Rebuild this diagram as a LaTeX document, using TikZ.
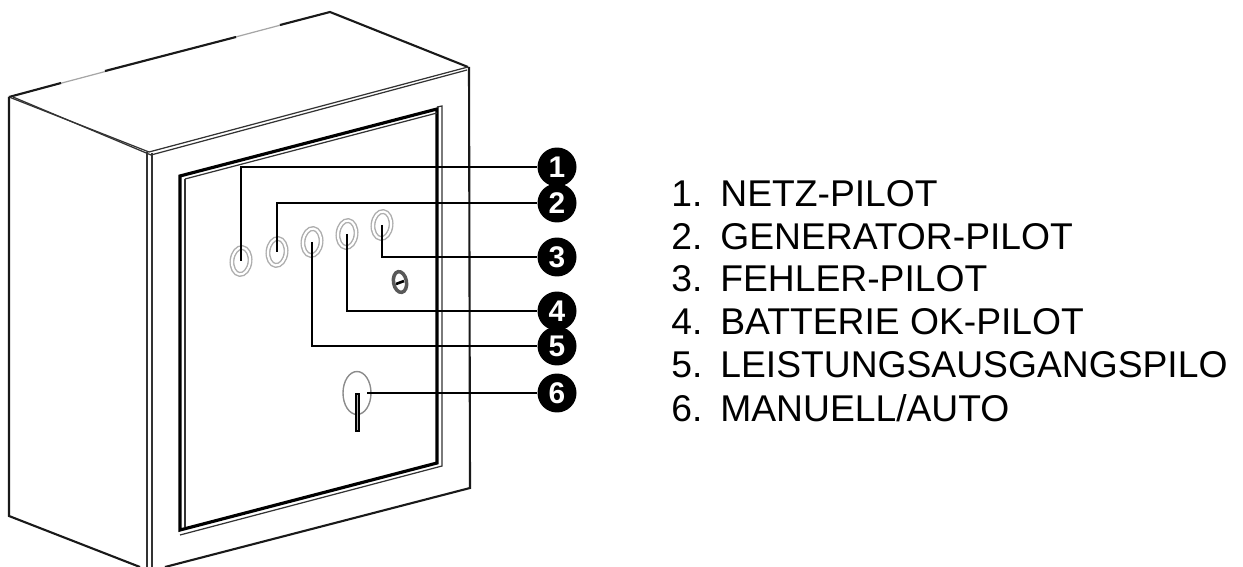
\documentclass[tikz,border=0pt]{standalone}
\usepackage{fontspec}
\setmainfont{Liberation Sans}
\usetikzlibrary{shapes.geometric}
\tikzset{
  edgeline/.style={line width=1.2pt, black!90},
  thinline/.style={line width=0.7pt, black!80},
  frameline/.style={line width=1.8pt, black},
  leader/.style={line width=1.3pt, black},
  ledring/.style={ellipse, draw=black!32, line width=0.8pt, double=white, double distance=1.2pt,
    minimum width=0.36cm, minimum height=0.54cm, inner sep=0pt, rotate=-6},
  badge/.style={circle, fill=black, text=white, font=\bfseries\fontsize{17}{17}\selectfont,
    minimum size=0.78cm, inner sep=0pt},
  entry/.style={anchor=base west, inner sep=0pt, font=\fontsize{21.2}{24}\selectfont}
}
\begin{document}
\begin{tikzpicture}[x=0.02cm, y=-0.02cm]
  \useasboundingbox (0,0) rectangle (1243,567);
  % housing, top face
  \draw[thinline, black!35] (9,97) -- (330,12);
  \draw[edgeline] (9,97) -- (61,83);
  \draw[edgeline] (105,71) -- (236,37);
  \draw[edgeline] (280,25) -- (330,12) -- (468,67);
  \draw[thinline] (9,97) -- (149,152) -- (468,67);
  \draw[thinline] (13,97) -- (151,155) -- (467,70);
  % housing, sides
  \draw[edgeline] (9,97) -- (9,516) -- (140,567);
  \draw[thinline] (147,152) -- (147,567);
  \draw[thinline] (152,153) -- (152,567);
  \draw[edgeline] (165,567) -- (470,488) -- (469,67);
  % window
  \draw[frameline] (180,176) -- (437,109) -- (437,463) -- (180,530) -- cycle;
  \draw[thinline] (185,179) -- (437,113);
  \draw[thinline] (185,179) -- (185,527);
  \draw[thinline] (180,535) -- (442,466) -- (442,106) -- (437,107);
  % pilots
  \foreach \n/\x/\y in {1/241/261, 2/277/252, 3/312/242, 4/347/234, 5/382/225} {
    \node[ledring] (led\n) at (\x,\y) {};
  }
  \node[ellipse, draw=black!65, line width=2pt, minimum width=0.26cm, minimum height=0.42cm,
    inner sep=0pt, rotate=10] (screw) at (400,282) {};
  \draw[line width=1.5pt] (396,284) -- (404,281);
  % switch
  \node[ellipse, draw=black!45, line width=0.8pt, minimum width=0.56cm, minimum height=0.86cm,
    inner sep=0pt] (knob) at (357,393) {};
  \draw[thinline, black, fill=black!30] (356,394) rectangle (359,431);
  \coordinate (knobend) at (367,393);
  % badges
  \foreach \n/\y in {1/167, 2/203, 3/257, 4/311, 5/346, 6/393} {
    \node[badge] (badge\n) at (557,\y) {\n};
  }
  % leaders
  \draw[leader] (led1.center) |- (badge1.west);
  \draw[leader] (led2.center) |- (badge2.west);
  \draw[leader] (led5.center) |- (badge3.west);
  \draw[leader] (led4.center) |- (badge4.west);
  \draw[leader] (led3.center) |- (badge5.west);
  \draw[leader] (knobend) -- (badge6.west);
  % legend
  \foreach \n/\y/\t in {1/206.5/NETZ-PILOT, 2/249.5/GENERATOR-PILOT, 3/292/FEHLER-PILOT,
      4/335/BATTERIE OK-PILOT, 5/377.5/LEISTUNGSAUSGANGSPILO, 6/421/MANUELL\slash AUTO} {
    \node[entry] (num\n) at (671,\y) {\n.};
    \node[entry] (txt\n) at (720,\y) {\t};
  }
\end{tikzpicture}
\end{document}
